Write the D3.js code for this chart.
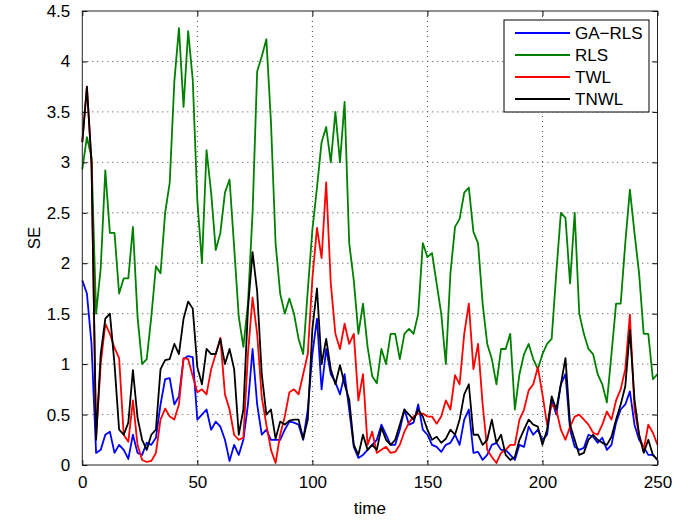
<!DOCTYPE html>
<html>
<head>
<meta charset="utf-8">
<script src="https://cdn.jsdelivr.net/npm/d3@7"></script>
<style>
  body { margin: 0; background: #fff; }
  svg text { font-family: "Liberation Sans", Arial, Helvetica, sans-serif; }
</style>
</head>
<body>
<div id="chart"></div>
<script>
// sample times (every 2nd step)
var time = d3.range(0, 251, 2);

var gaRls = [1.83,1.7,1.2,0.12,0.15,0.3,0.33,0.12,0.2,0.15,
  0.06,0.3,0.12,0.1,0.22,0.2,0.27,0.6,0.85,0.86,
  0.6,0.68,1.05,1.08,1.07,0.45,0.5,0.55,0.35,0.43,
  0.38,0.25,0.04,0.2,0.1,0.25,0.6,1.15,0.6,0.3,
  0.35,0.25,0.25,0.25,0.35,0.43,0.42,0.4,0.25,0.55,
  1.1,1.45,0.75,1.15,0.9,0.82,0.7,0.9,0.55,0.18,
  0.07,0.1,0.15,0.2,0.25,0.4,0.3,0.2,0.2,0.35,
  0.55,0.4,0.42,0.6,0.35,0.3,0.2,0.18,0.13,0.2,
  0.22,0.3,0.2,0.45,0.55,0.12,0.13,0.05,0.1,0.2,
  0.22,0.15,0.15,0.1,0.05,0.2,0.18,0.38,0.3,0.35,
  0.25,0.3,0.65,0.5,0.8,0.9,0.35,0.18,0.15,0.17,
  0.3,0.28,0.22,0.27,0.15,0.2,0.42,0.55,0.6,0.73,
  0.4,0.25,0.18,0.1,0.1,0.05];

var rls = [2.93,3.25,3.05,1.5,1.95,2.92,2.3,2.3,1.7,1.85,
  1.85,2.36,1.47,1.0,1.05,1.47,1.97,1.9,2.5,2.8,
  3.8,4.33,3.55,4.3,3.82,2.62,2.0,3.12,2.7,2.13,
  2.3,2.7,2.83,2.16,1.47,1.17,1.6,2.5,3.9,4.05,
  4.22,3.4,2.2,1.7,1.5,1.65,1.5,1.25,1.1,1.73,
  2.33,2.75,3.2,3.35,3.0,3.5,3.0,3.6,2.2,1.83,
  1.3,1.6,1.17,0.88,0.81,1.15,1.0,1.3,1.3,1.05,
  1.3,1.35,1.3,1.5,2.2,2.06,2.1,1.8,1.5,1.0,
  1.9,2.36,2.44,2.7,2.75,2.31,2.2,1.6,1.2,1.05,
  0.8,1.15,1.15,1.3,0.55,0.9,1.1,1.2,1.05,0.95,
  1.1,1.2,1.25,1.9,2.5,2.45,1.8,2.5,1.5,1.3,
  1.15,1.1,0.9,0.8,0.62,1.1,1.6,1.6,2.2,2.73,
  2.3,1.9,1.3,1.3,0.85,0.9];

var twl = [3.2,3.75,3.0,0.28,1.0,1.4,1.3,1.16,1.06,0.3,
  0.23,0.64,0.2,0.05,0.03,0.04,0.12,0.45,0.56,0.48,
  0.45,0.6,1.06,1.05,0.88,0.72,0.75,0.7,0.95,1.1,
  1.26,0.7,0.55,0.3,0.25,0.27,1.1,1.66,1.3,0.67,
  0.4,0.15,0.02,0.3,0.48,0.72,0.75,0.7,0.9,1.1,
  1.85,2.35,2.05,2.8,1.8,1.3,1.15,1.4,1.2,1.3,
  0.64,0.9,0.2,0.33,0.12,0.15,0.18,0.12,0.13,0.2,
  0.33,0.42,0.48,0.51,0.51,0.48,0.48,0.41,0.48,0.64,
  0.55,0.89,0.8,1.3,1.6,0.95,1.2,0.6,0.15,0.08,
  0.02,0.12,0.15,0.2,0.2,0.45,0.55,0.74,0.8,0.97,
  0.7,0.4,0.6,0.55,0.35,0.25,0.38,0.48,0.5,0.45,
  0.4,0.32,0.3,0.4,0.53,0.45,0.64,0.75,0.95,1.49,
  0.55,0.3,0.15,0.4,0.32,0.2];

var tnwl = [3.2,3.75,3.0,0.25,1.1,1.45,1.5,1.0,0.35,0.3,
  0.42,0.94,0.47,0.25,0.15,0.3,0.35,0.95,1.04,1.05,
  1.2,1.1,1.45,1.62,1.55,0.97,0.8,1.15,1.1,1.1,
  1.25,1.0,1.15,0.95,0.3,0.55,1.55,2.11,1.72,0.9,
  0.5,0.55,0.26,0.43,0.4,0.44,0.45,0.45,0.26,0.45,
  1.35,1.75,1.0,1.25,0.95,0.8,0.99,0.8,0.65,0.2,
  0.1,0.3,0.15,0.2,0.15,0.37,0.25,0.2,0.25,0.4,
  0.55,0.5,0.45,0.55,0.48,0.35,0.25,0.28,0.22,0.26,
  0.35,0.3,0.45,0.7,0.8,0.3,0.3,0.2,0.25,0.45,
  0.22,0.3,0.1,0.05,0.08,0.25,0.35,0.45,0.4,0.38,
  0.2,0.35,0.68,0.55,0.8,1.06,0.4,0.25,0.1,0.12,
  0.25,0.3,0.25,0.22,0.2,0.28,0.45,0.6,0.78,1.34,
  0.65,0.3,0.12,0.25,0.1,0.05];

var seriesNames = ["GA\u2212RLS", "RLS", "TWL", "TNWL"];
var seriesColors = ["#0000ff", "#008000", "#ff0000", "#000000"];
var xTicks = [0, 50, 100, 150, 200, 250];
var yTicks = [0, 0.5, 1, 1.5, 2, 2.5, 3, 3.5, 4, 4.5];

var width = 695, height = 520;
var margin = {top: 11, right: 37.5, bottom: 55, left: 82.3};
var w = width - margin.left - margin.right,
    h = height - margin.top - margin.bottom;

var svg = d3.select("#chart").append("svg")
    .attr("width", width)
    .attr("height", height);

var g = svg.append("g")
    .attr("transform", "translate(" + margin.left + "," + margin.top + ")");

var x = d3.scaleLinear().domain([0, 250]).range([0, w]);
var y = d3.scaleLinear().domain([0, 4.5]).range([h, 0]);

// dotted grid
g.append("g").selectAll("line.gx")
    .data(xTicks.slice(1, -1))
  .enter().append("line")
    .attr("x1", function(d){ return x(d); })
    .attr("x2", function(d){ return x(d); })
    .attr("y1", 0).attr("y2", h)
    .attr("stroke", "#444").attr("stroke-width", 1)
    .attr("stroke-dasharray", "1,4");
g.append("g").selectAll("line.gy")
    .data(yTicks.slice(1, -1))
  .enter().append("line")
    .attr("y1", function(d){ return y(d); })
    .attr("y2", function(d){ return y(d); })
    .attr("x1", 0).attr("x2", w)
    .attr("stroke", "#444").attr("stroke-width", 1)
    .attr("stroke-dasharray", "1,4");

// series lines
var line = d3.line()
    .x(function(d, i){ return x(time[i]); })
    .y(function(d){ return y(d); });

[gaRls, rls, twl, tnwl].forEach(function(s, k) {
  g.append("path")
    .datum(s)
    .attr("d", line)
    .attr("fill", "none")
    .attr("stroke", seriesColors[k])
    .attr("stroke-width", 1.8)
    .attr("stroke-linejoin", "round");
});

// axes, ticks pointing inwards on all four sides
var axisFont = function(sel) {
  sel.select(".domain").remove();
  sel.selectAll("line").attr("stroke", "#000");
  sel.selectAll("text").attr("font-size", 17).attr("fill", "#000")
    .style("font-family", "Liberation Sans, Arial, sans-serif");
};

g.append("g")
    .attr("transform", "translate(0," + h + ")")
    .call(d3.axisBottom(x).tickValues(xTicks).tickSizeInner(-5).tickSizeOuter(0).tickPadding(11))
    .call(axisFont);
g.append("g")
    .call(d3.axisLeft(y).tickValues(yTicks).tickFormat(d3.format("")).tickSizeInner(-5).tickSizeOuter(0).tickPadding(12))
    .call(axisFont);
g.append("g")
    .call(d3.axisTop(x).tickValues(xTicks).tickSizeInner(-5).tickSizeOuter(0).tickFormat(""))
    .call(axisFont);
g.append("g")
    .attr("transform", "translate(" + w + ",0)")
    .call(d3.axisRight(y).tickValues(yTicks).tickSizeInner(-5).tickSizeOuter(0).tickFormat(""))
    .call(axisFont);

g.append("rect")
    .attr("width", w).attr("height", h)
    .attr("fill", "none").attr("stroke", "#222").attr("stroke-width", 1);

// axis labels
svg.append("text")
    .attr("x", margin.left + w / 2).attr("y", 514)
    .attr("text-anchor", "middle").attr("font-size", 17)
    .text("time");
svg.append("text")
    .attr("transform", "translate(40," + (margin.top + h / 2) + ") rotate(-90)")
    .attr("text-anchor", "middle").attr("font-size", 17)
    .text("SE");

// legend
var lg = svg.append("g").attr("transform", "translate(504,20)");
lg.append("rect")
    .attr("width", 145).attr("height", 92)
    .attr("fill", "#fff").attr("stroke", "#000").attr("stroke-width", 1);
var item = lg.selectAll("g.item")
    .data(seriesNames)
  .enter().append("g")
    .attr("transform", function(d, i){ return "translate(0," + (13 + i * 22) + ")"; });
item.append("line")
    .attr("x1", 11).attr("x2", 66)
    .attr("stroke", function(d, i){ return seriesColors[i]; })
    .attr("stroke-width", 1.8);
item.append("text")
    .attr("x", 71).attr("y", 6)
    .attr("font-size", 17)
    .text(function(d){ return d; });
</script>
</body>
</html>
